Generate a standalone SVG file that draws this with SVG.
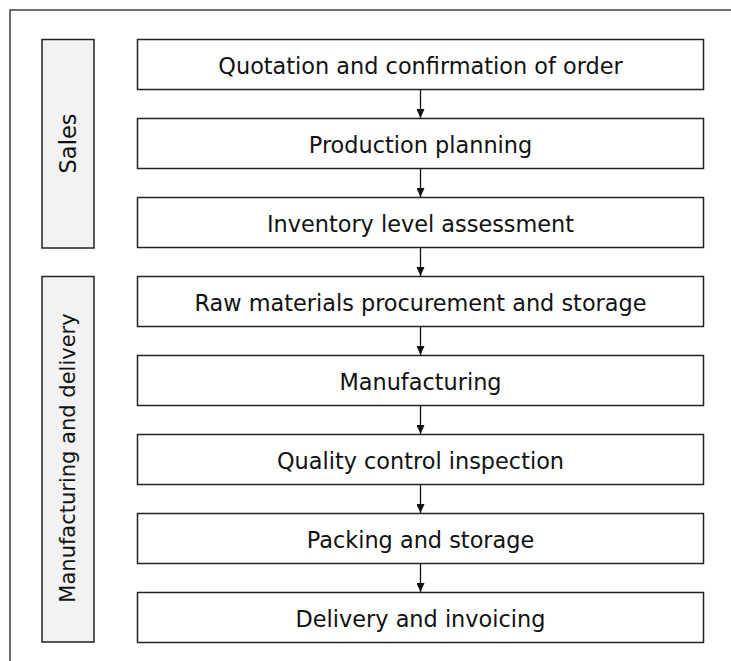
<svg xmlns="http://www.w3.org/2000/svg" width="731" height="661" viewBox="0 0 731 661">
<style>
.frame{fill:none;stroke:#222;stroke-width:1.3}
.lane{fill:#f2f2f2;stroke:#222;stroke-width:1.5}
.box{fill:#fff;stroke:#222;stroke-width:1.5}
.t{font-family:"DejaVu Sans",Verdana,sans-serif;font-size:22.4px;fill:#111;text-anchor:middle}
.lt{font-family:"DejaVu Sans",Verdana,sans-serif;font-size:21px;fill:#111;text-anchor:middle;dominant-baseline:central}
.c{stroke:#111;stroke-width:1.3;fill:none}
</style>
<defs>
<marker id="ah" markerWidth="9" markerHeight="8" refX="9" refY="4" orient="auto" markerUnits="userSpaceOnUse" viewBox="0 0 9 8">
<path d="M0,0 L9,4 L0,8 Z" fill="#111"/>
</marker>
</defs>
<rect class="frame" x="10" y="10" width="900" height="900"/>
<g id="lane-sales">
<rect class="lane" x="42" y="39.5" width="52" height="208.5"/>
<text class="lt" style="font-size:22.5px" transform="translate(68,143.5) rotate(-90)">Sales</text>
</g>
<g id="lane-mfg">
<rect class="lane" x="42" y="276.5" width="52" height="365.5"/>
<text class="lt" transform="translate(68,458) rotate(-90)">Manufacturing and delivery</text>
</g>
<g id="n1"><rect class="box" x="137.5" y="39.5" width="566" height="50"/><text class="t" x="420.5" y="73.5">Quotation and confirmation of order</text></g>
<g id="n2"><rect class="box" x="137.5" y="118.5" width="566" height="50"/><text class="t" x="420.5" y="152.5">Production planning</text></g>
<g id="n3"><rect class="box" x="137.5" y="197.5" width="566" height="50"/><text class="t" x="420.5" y="231.5">Inventory level assessment</text></g>
<g id="n4"><rect class="box" x="137.5" y="276.5" width="566" height="50"/><text class="t" x="420.5" y="310.5">Raw materials procurement and storage</text></g>
<g id="n5"><rect class="box" x="137.5" y="355.5" width="566" height="50"/><text class="t" x="420.5" y="389.5">Manufacturing</text></g>
<g id="n6"><rect class="box" x="137.5" y="434.5" width="566" height="50"/><text class="t" x="420.5" y="468.5">Quality control inspection</text></g>
<g id="n7"><rect class="box" x="137.5" y="513.5" width="566" height="50"/><text class="t" x="420.5" y="547.5">Packing and storage</text></g>
<g id="n8"><rect class="box" x="137.5" y="592.5" width="566" height="50"/><text class="t" x="420.5" y="626.5">Delivery and invoicing</text></g>
<g id="connectors">
<line class="c" x1="420.5" y1="89.5" x2="420.5" y2="118" marker-end="url(#ah)"/>
<line class="c" x1="420.5" y1="168.5" x2="420.5" y2="197" marker-end="url(#ah)"/>
<line class="c" x1="420.5" y1="247.5" x2="420.5" y2="276" marker-end="url(#ah)"/>
<line class="c" x1="420.5" y1="326.5" x2="420.5" y2="355" marker-end="url(#ah)"/>
<line class="c" x1="420.5" y1="405.5" x2="420.5" y2="434" marker-end="url(#ah)"/>
<line class="c" x1="420.5" y1="484.5" x2="420.5" y2="513" marker-end="url(#ah)"/>
<line class="c" x1="420.5" y1="563.5" x2="420.5" y2="592" marker-end="url(#ah)"/>
</g>
</svg>
